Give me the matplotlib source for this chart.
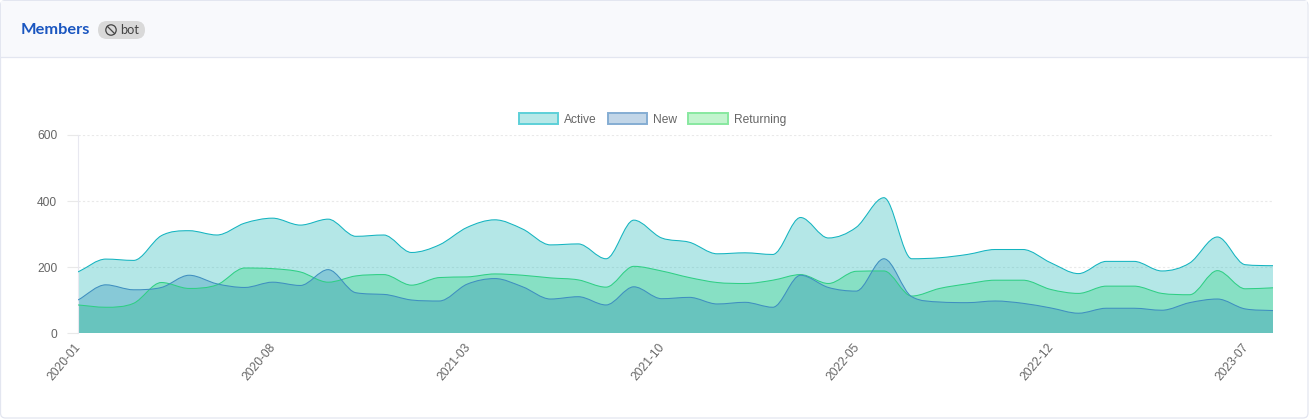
import matplotlib
matplotlib.use("Agg")
import matplotlib.pyplot as plt
import numpy as np
from matplotlib.colors import to_rgba
from matplotlib.patches import Circle, FancyBboxPatch, Patch, PathPatch, Rectangle
from matplotlib.path import Path
from matplotlib.transforms import ScaledTranslation

months = [f"{y}-{m:02d}" for y in range(2020, 2024) for m in range(1, 13)][:44]

active = [185, 224, 220, 295, 310, 297, 333, 348, 327, 345, 293, 297, 244, 267, 320, 343, 315, 267, 270, 225, 342, 288,
          275, 240, 243, 238, 350, 288, 320, 410, 225, 228, 238, 253, 253, 213, 180, 217, 217, 188, 212, 291, 207, 204]
new = [100, 146, 131, 138, 175, 149, 138, 154, 144, 192, 122, 117, 100, 97, 148, 165, 140, 103, 110, 85, 140, 104,
       108, 88, 93, 78, 175, 138, 127, 225, 110, 94, 92, 97, 90, 76, 60, 75, 75, 69, 92, 103, 73, 68]
returning = [85, 78, 90, 153, 135, 146, 197, 195, 185, 154, 173, 177, 145, 168, 170, 179, 175, 167, 161, 139, 202, 188,
             168, 153, 150, 160, 177, 150, 187, 188, 112, 135, 149, 160, 160, 132, 120, 142, 142, 120, 116, 189, 134, 137]

series_names = ["Active", "New", "Returning"]
line_colors = ["#14b4c0", "#3f8fc0", "#2fcf85"]
fill_colors = ["#08b2b2", "#2d73b2", "#2ddc58"]
legend_edges = ["#5dd0d8", "#85add3", "#88e8a0"]
y_ticks = [0, 200, 400, 600]

W, H = 1309, 419
PLOT_W, PLOT_H = 1195, 198
TEXT = "#666666"
plt.rcParams["font.family"] = ["Liberation Sans", "DejaVu Sans"]


def monotone_verts(values):
    # monotone cubic through the points, written as bezier segments
    y = np.asarray(values, dtype=float)
    delta = np.diff(y)
    m = np.zeros(len(y))
    m[0], m[-1] = delta[0], delta[-1]
    for i in range(1, len(y) - 1):
        if delta[i - 1] * delta[i] > 0:
            m[i] = (delta[i - 1] + delta[i]) / 2
    for i in range(len(delta)):
        if delta[i] == 0:
            m[i] = m[i + 1] = 0
            continue
        a, b = m[i] / delta[i], m[i + 1] / delta[i]
        s = a * a + b * b
        if s > 9:
            t = 3 / np.sqrt(s)
            m[i] = t * a * delta[i]
            m[i + 1] = t * b * delta[i]
    verts = [(0.0, y[0])]
    for i in range(len(y) - 1):
        verts += [(i + 1 / 3, y[i] + m[i] / 3), (i + 2 / 3, y[i + 1] - m[i + 1] / 3), (i + 1.0, y[i + 1])]
    return verts


fig = plt.figure(figsize=(W / 100, H / 100), dpi=100, facecolor="white")

# card and header
bg = fig.add_axes([0, 0, 1, 1], zorder=0)
bg.set_xlim(0, W)
bg.set_ylim(H, 0)
bg.axis("off")
bg.add_patch(FancyBboxPatch((0.5, 0.5), W - 1.5, H - 1.5, boxstyle="round,pad=0,rounding_size=5",
                            fc="white", ec="#e3e6f0", lw=0.9))
bg.add_patch(Rectangle((1.2, 1.2), W - 3, 56, fc="#f8f9fc", ec="none"))
bg.plot([0.5, W - 1], [57.5, 57.5], color="#e3e6f0", lw=0.9)
bg.text(21, 29.5, "Members", color="#1a56c0", fontsize=11.8, fontweight="bold", family="Lato", va="center")
bg.add_patch(FancyBboxPatch((98, 21), 47, 18, boxstyle="round,pad=0,rounding_size=9", fc="#d9d9d9", ec="none"))
bg.add_patch(Circle((111, 30), 5.2, fc="none", ec="#444444", lw=0.9))
bg.plot([107.4, 114.6], [26.4, 33.6], color="#444444", lw=0.9)
bg.text(120, 30.5, "bot", color="#444444", fontsize=9.2, family="Lato", va="center")

ax = fig.add_axes([78 / W, 1 - 333 / H, PLOT_W / W, PLOT_H / H], zorder=1)
ax.patch.set_alpha(0)
x = np.arange(len(months))
# first dataset is painted last, like in the original
for values, line_color, fill_color in reversed(list(zip([active, new, returning], line_colors, fill_colors))):
    verts = monotone_verts(values)
    codes = [Path.MOVETO] + [Path.CURVE4] * (len(verts) - 1)
    area = Path(verts + [(x[-1], 0), (x[0], 0), verts[0]],
                codes + [Path.LINETO, Path.LINETO, Path.CLOSEPOLY])
    ax.add_patch(PathPatch(area, fc=fill_color, ec="none", alpha=0.3, zorder=2))
    ax.add_patch(PathPatch(Path(verts, codes), fc="none", ec=line_color, lw=0.75, zorder=3))

ax.set_xlim(x[0], x[-1])
ax.set_ylim(0, 600)
ax.set_yticks(y_ticks)
ax.set_xticks(x[::7])
ax.set_xticklabels(months[::7], rotation=50, ha="right", va="top", rotation_mode="anchor")
ax.tick_params(axis="x", length=0, pad=6, labelsize=8.64, labelcolor=TEXT)
ax.tick_params(axis="y", length=8, width=0.8, color="#e9e9e9", pad=7, labelsize=8.64, labelcolor=TEXT)
for tick in ax.yaxis.get_major_ticks():
    tick.tick1line.set_linestyle((0, (2, 2)))
shift = ScaledTranslation(-3.5 / 100, 0, fig.dpi_scale_trans)
for label in ax.get_xticklabels():
    label.set_transform(label.get_transform() + shift)
ax.grid(axis="y", color="#e9e9e9", lw=0.8, ls=(0, (2, 2)), zorder=1)
for side in ["top", "right", "bottom"]:
    ax.spines[side].set_visible(False)
ax.spines["left"].set_color("#e8e8f0")
ax.spines["left"].set_linewidth(0.8)

handles = [Patch(fc=to_rgba(fill_colors[i], 0.29), ec=legend_edges[i], lw=1.4) for i in range(3)]
leg = ax.legend(handles, series_names, ncol=3, loc="lower center", bbox_to_anchor=(0.4808, 1.0), frameon=False,
                fontsize=8.64, handlelength=3.28, handleheight=1.05, handletextpad=0.5, columnspacing=0.92,
                labelcolor=TEXT, borderaxespad=0.58, borderpad=0.2)

fig.savefig("out.png", dpi=100)
